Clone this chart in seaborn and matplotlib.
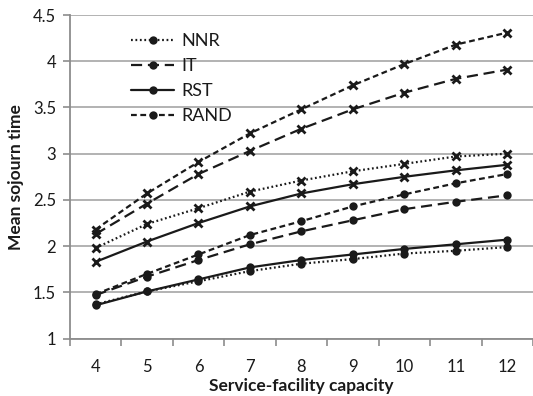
import matplotlib
matplotlib.use("Agg")
import matplotlib.pyplot as plt
import seaborn as sns
import pandas as pd

capacity = [4, 5, 6, 7, 8, 9, 10, 11, 12]

# sojourn times, round-marker series (named in the legend)
nnr_dot = [1.37, 1.51, 1.62, 1.73, 1.81, 1.86, 1.92, 1.95, 1.99]
it_dot = [1.47, 1.67, 1.85, 2.02, 2.16, 2.28, 2.40, 2.48, 2.55]
rst_dot = [1.36, 1.51, 1.64, 1.77, 1.85, 1.91, 1.97, 2.02, 2.07]
rand_dot = [1.48, 1.70, 1.91, 2.12, 2.27, 2.43, 2.56, 2.68, 2.78]

# sojourn times, cross-marker series
nnr_x = [1.98, 2.24, 2.41, 2.59, 2.71, 2.81, 2.89, 2.97, 3.00]
it_x = [2.13, 2.46, 2.78, 3.03, 3.27, 3.48, 3.66, 3.81, 3.91]
rst_x = [1.83, 2.05, 2.25, 2.43, 2.57, 2.67, 2.75, 2.82, 2.88]
rand_x = [2.18, 2.57, 2.91, 3.22, 3.48, 3.74, 3.97, 4.18, 4.31]

legend_names = ["NNR", "IT", "RST", "RAND"]
y_ticks = [1, 1.5, 2, 2.5, 3, 3.5, 4, 4.5]
y_tick_labels = ["1", "1.5", "2", "2.5", "3", "3.5", "4", "4.5"]

line_dashes = {
    "NNR": (0.8, 1.2),
    "IT": (5, 2.6),
    "RST": None,
    "RAND": (2.6, 1.6),
}

sns.set_theme(style="white")
plt.rcParams["font.family"] = ["Lato", "DejaVu Sans"]

fig = plt.figure(figsize=(5.33, 3.96), dpi=100)
ax = fig.add_axes([0.131, 0.145, 0.869, 0.817])

grid_col = "#a6a6a6"
ink = "#1a1a1a"

series_dot = dict(zip(legend_names, [nnr_dot, it_dot, rst_dot, rand_dot]))
series_x = dict(zip(legend_names, [nnr_x, it_x, rst_x, rand_x]))

handles = []
for name in legend_names:
    df = pd.DataFrame({"capacity": capacity, "time": series_dot[name]})
    sns.lineplot(data=df, x="capacity", y="time", ax=ax, color=ink,
                 marker="o", markersize=6, markeredgewidth=0,
                 markerfacecolor=ink, linewidth=1.6, label=name, zorder=3)
    line = ax.lines[-1]
    if line_dashes[name] is not None:
        line.set_dashes(line_dashes[name])
    handles.append(line)

for name in legend_names:
    df = pd.DataFrame({"capacity": capacity, "time": series_x[name]})
    sns.lineplot(data=df, x="capacity", y="time", ax=ax, color=ink,
                 marker="x", markersize=6, markeredgewidth=2,
                 markeredgecolor=ink, linewidth=1.6, zorder=3)
    line = ax.lines[-1]
    if line_dashes[name] is not None:
        line.set_dashes(line_dashes[name])

ax.set_xlim(3.5, 12.5)
ax.set_ylim(1, 4.5)
ax.set_yticks(y_ticks)
ax.set_yticklabels(y_tick_labels)
ax.set_xticks(capacity)
ax.set_xticklabels([str(c) for c in capacity])
ax.set_xticks([c - 0.5 for c in capacity] + [12.5], minor=True)

ax.yaxis.grid(True, color=grid_col, linewidth=1.2)
ax.xaxis.grid(False)
ax.set_axisbelow(True)

for side in ["top", "right"]:
    ax.spines[side].set_visible(False)
for side in ["left", "bottom"]:
    ax.spines[side].set_color("#8c8c8c")
    ax.spines[side].set_linewidth(1.3)

ax.tick_params(axis="x", which="major", length=0, pad=15, labelsize=12, labelcolor=ink)
ax.tick_params(axis="x", which="minor", bottom=True, length=5, width=1.2, color="#8c8c8c")
ax.tick_params(axis="y", which="major", left=True, length=5, width=1.2, color="#8c8c8c",
               pad=5, labelsize=12, labelcolor=ink)

ax.set_xlabel("Service-facility capacity", fontsize=12.5, fontweight="bold", color=ink, labelpad=2)
ax.set_ylabel("Mean sojourn time", fontsize=12.5, fontweight="bold", color=ink, labelpad=6)

leg = ax.legend(handles=handles, labels=legend_names, loc="upper left",
                bbox_to_anchor=(0.132, 0.944), frameon=False, fontsize=13,
                handlelength=2.4, handletextpad=0.4, labelspacing=0.5,
                borderaxespad=0, borderpad=0)
for t in leg.get_texts():
    t.set_color(ink)

fig.savefig("out.png", dpi=100)
